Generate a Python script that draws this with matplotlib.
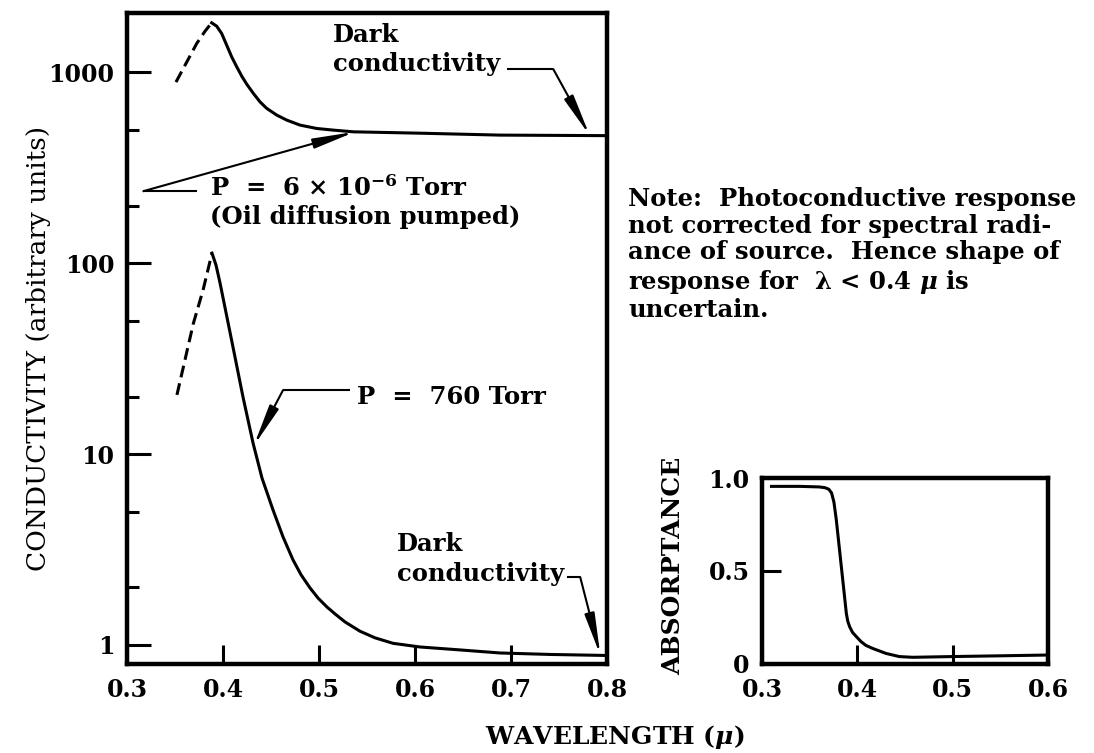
import numpy as np
import matplotlib
matplotlib.use("Agg")
import matplotlib.pyplot as plt
from matplotlib.ticker import FixedLocator, NullFormatter

# conductivity, oil-diffusion pumped (6e-6 Torr)
vac_dash_x = [0.351, 0.3726, 0.3813, 0.3882]
vac_dash_y = [887, 1413, 1640, 1812]
vac_x = [0.3882, 0.3934, 0.3986, 0.4038, 0.409, 0.4143, 0.4195, 0.4247,
         0.4316, 0.4385, 0.4455, 0.4559, 0.4663, 0.4802, 0.4976, 0.5149,
         0.5357, 0.605, 0.6885, 0.800]
vac_y = [1812, 1741, 1594, 1385, 1203, 1066, 953, 865,
         774, 699, 646, 596, 561, 528, 507, 497,
         487, 479, 468, 465]

# conductivity at 760 Torr
air_dash_x = [0.352, 0.3691, 0.3792, 0.3885]
air_dash_y = [20.4, 48.3, 72.2, 112.8]
air_x = [0.3885, 0.3927, 0.3969, 0.4104, 0.4208, 0.4313, 0.4406, 0.4521,
         0.4625, 0.4729, 0.4813, 0.4906, 0.499, 0.5083, 0.5177, 0.5271,
         0.5427, 0.5583, 0.5771, 0.6052, 0.6469, 0.6885, 0.7406, 0.800]
air_y = [112.8, 97.6, 78.6, 36.3, 19.9, 11.4, 7.48, 5.09,
         3.68, 2.79, 2.33, 1.99, 1.76, 1.58, 1.44, 1.32,
         1.18, 1.09, 1.02, 0.976, 0.942, 0.908, 0.892, 0.881]

# absorptance
abs_x = [0.31, 0.34, 0.36, 0.366, 0.370, 0.373, 0.3755, 0.378, 0.3815,
         0.385, 0.3885, 0.390, 0.392, 0.395, 0.399, 0.404, 0.409, 0.416,
         0.430, 0.444, 0.458, 0.500, 0.550, 0.597]
abs_y = [0.955, 0.955, 0.952, 0.948, 0.94, 0.92, 0.87, 0.774, 0.607,
         0.44, 0.272, 0.23, 0.20, 0.17, 0.147, 0.12, 0.10, 0.084,
         0.057, 0.04, 0.036, 0.04, 0.044, 0.048]

x_ticks = [0.3, 0.4, 0.5, 0.6, 0.7, 0.8]
y_major = [1, 10, 100, 1000]
y_minor = [2, 5, 20, 50, 200, 500]
abs_xticks = [0.3, 0.4, 0.5, 0.6]
abs_yticks = [0, 0.5, 1.0]

note = ("Note:  Photoconductive response\n"
        "not corrected for spectral radi-\n"
        "ance of source.  Hence shape of\n"
        "response for  \u03bb < 0.4 $\\mu$ is\n"
        "uncertain.")

plt.rcParams['font.family'] = ['DejaVu Serif']
plt.rcParams['font.weight'] = 'bold'
plt.rcParams['mathtext.fontset'] = 'custom'
plt.rcParams['mathtext.rm'] = 'DejaVu Serif:bold'
plt.rcParams['mathtext.it'] = 'DejaVu Serif:italic:bold'
plt.rcParams['mathtext.bf'] = 'DejaVu Serif:bold'

FS = 17.5      # annotation text
FS_TICK = 17
LW = 2.2
DASH = (0, (3.9, 2.0))

fig = plt.figure(figsize=(10.94, 7.53), dpi=100)
ax = fig.add_axes([0.1161, 0.1182, 0.4388, 0.8645])


def on_curve(x, xs, ys):
    return 10 ** np.interp(x, xs, np.log10(ys))


def leader(ax, xs, ys, tip):
    ax.plot(xs, ys, color='k', lw=1.5, solid_capstyle='butt')
    ax.annotate('', xy=tip, xytext=(xs[-1], ys[-1]),
                arrowprops=dict(arrowstyle='-|>,head_length=2.5,head_width=0.3',
                                mutation_scale=10, lw=1.5, color='k',
                                shrinkA=0, shrinkB=0))


ax.plot(vac_dash_x, vac_dash_y, color='k', lw=LW, ls=DASH)
ax.plot(vac_x, vac_y, color='k', lw=LW, solid_joinstyle='round')
ax.plot(air_dash_x, air_dash_y, color='k', lw=LW, ls=DASH)
ax.plot(air_x, air_y, color='k', lw=LW, solid_joinstyle='round')

ax.set_yscale('log')
ax.set_xlim(0.3, 0.8)
ax.set_ylim(0.795, 2040)
ax.set_xticks(x_ticks)
ax.set_xticklabels(['%.1f' % v for v in x_ticks])
ax.yaxis.set_major_locator(FixedLocator(y_major))
ax.set_yticklabels([str(v) for v in y_major])
ax.yaxis.set_minor_locator(FixedLocator(y_minor))
ax.yaxis.set_minor_formatter(NullFormatter())
ax.tick_params(which='both', direction='in', top=False, right=False,
               width=2.2, labelsize=FS_TICK)
ax.tick_params(axis='x', length=14, pad=10)
ax.tick_params(axis='y', which='major', length=17, pad=9)
ax.tick_params(axis='y', which='minor', length=8.5)
for s in ax.spines.values():
    s.set_linewidth(3.2)

ax.set_ylabel('CONDUCTIVITY (arbitrary units)', fontsize=19, fontweight='normal')
ax.yaxis.set_label_coords(-0.158, 0.485)

# labels with leader arrows
ax.text(0.5146, 1800, 'Dark\nconductivity', fontsize=FS, va='top', ha='left',
        linespacing=1.25)
leader(ax, [0.696, 0.744], [1037, 1037], (0.782, on_curve(0.782, vac_x, vac_y)))

ax.text(0.3865, 289, 'P  =  6 \u00d7 10$^{-6}$ Torr\n(Oil diffusion pumped)',
        fontsize=FS, va='top', ha='left', linespacing=1.2)
leader(ax, [0.373, 0.317], [238, 238], (0.5375, on_curve(0.5375, vac_x, vac_y)))

ax.text(0.5396, 19.9, 'P  =  760 Torr', fontsize=FS, va='center', ha='left')
leader(ax, [0.532, 0.4625], [21.6, 21.6], (0.432, on_curve(0.432, air_x, air_y)))

ax.text(0.581, 3.9, 'Dark\nconductivity', fontsize=FS, va='top', ha='left',
        linespacing=1.3)
leader(ax, [0.758, 0.772], [2.27, 2.27], (0.793, on_curve(0.793, air_x, air_y)))

fig.text(0.574, 0.752, note, fontsize=FS, va='top', ha='left', linespacing=1.15)

# absorptance inset
ax2 = fig.add_axes([0.6965, 0.1182, 0.2614, 0.247])
ax2.plot(abs_x, abs_y, color='k', lw=LW, solid_joinstyle='round')
ax2.set_xlim(0.3, 0.6)
ax2.set_ylim(0, 1.0)
ax2.set_xticks(abs_xticks)
ax2.set_xticklabels(['%.1f' % v for v in abs_xticks])
ax2.set_yticks(abs_yticks)
ax2.set_yticklabels(['0', '0.5', '1.0'])
ax2.tick_params(direction='in', top=False, right=False, width=2.2,
                length=14, labelsize=FS_TICK)
ax2.tick_params(axis='x', pad=10)
ax2.tick_params(axis='y', pad=9)
for s in ax2.spines.values():
    s.set_linewidth(3.2)
ax2.set_ylabel('ABSORPTANCE', fontsize=18, fontweight='bold')
ax2.yaxis.set_label_coords(-0.27, 0.53)

fig.text(0.562, 0.021, 'WAVELENGTH ($\\mu$)', fontsize=18, ha='center', va='center')

fig.savefig('out.png', dpi=100)
